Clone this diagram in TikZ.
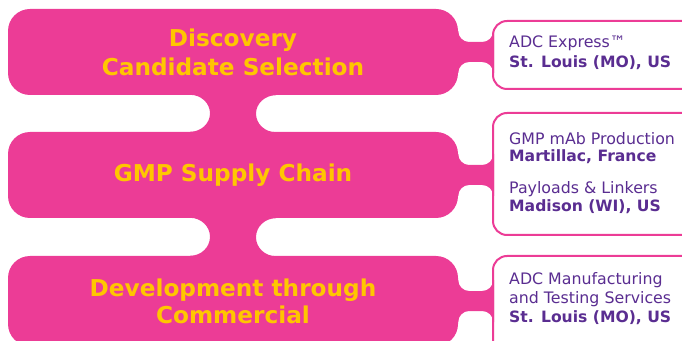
\documentclass[tikz,border=0pt]{standalone}
\usepackage{fontspec}
\setmainfont{DejaVu Sans}
\definecolor{pinkc}{HTML}{EC3C96}
\definecolor{goldc}{HTML}{FFC600}
\definecolor{purplec}{HTML}{5A2D91}
\tikzset{
 mainbox/.style={fill=pinkc, rounded corners=22pt, minimum width=450pt, minimum height=86pt, text=goldc, font=\fontsize{23.2}{29}\selectfont\bfseries, align=center, inner sep=0pt},
 sidebox/.style={draw=pinkc, line width=2pt, fill=white, rounded corners=14pt, minimum width=207pt, inner sep=0pt},
 sidetext/.style={anchor=base west, text=purplec, font=\fontsize{15.8}{18}\selectfont, inner sep=0pt},
 sidebold/.style={anchor=base west, text=purplec, font=\fontsize{15.6}{18}\selectfont\bfseries, inner sep=0pt},
 neck/.style={fill=pinkc}
}
\begin{document}
\begin{tikzpicture}[x=1pt,y=1pt]
\useasboundingbox (0,0) rectangle (682,340);
\clip (0,0) rectangle (682,340);
% main boxes
\node[mainbox] (b1) at (233,288) {Discovery\\Candidate Selection};
\node[mainbox] (b2) at (233,165) {\raisebox{-2pt}{GMP Supply Chain}};
\node[mainbox, minimum height=90pt] (b3) at (233,39) {Development through\\[-2pt]Commercial};
% side boxes
\node[sidebox, minimum height=68pt] (ra) at (596.5,285) {};
\node[sidebox, minimum height=122pt] (rb) at (596.5,166) {};
\node[sidebox, minimum height=104pt] (rc) at (596.5,32) {};
% vertical necks
\fill[neck] ([xshift=-43pt,yshift=1pt]b1.south) -- ([xshift=43pt,yshift=1pt]b1.south) -- ([xshift=43pt]b1.south)
  arc[start angle=90,end angle=270,x radius=20pt,y radius=18.5pt]
  -- ([xshift=43pt,yshift=-1pt]b2.north) -- ([xshift=-43pt,yshift=-1pt]b2.north) -- ([xshift=-43pt]b2.north)
  arc[start angle=-90,end angle=90,x radius=20pt,y radius=18.5pt] -- cycle;
\fill[neck] ([xshift=-43pt,yshift=1pt]b2.south) -- ([xshift=43pt,yshift=1pt]b2.south) -- ([xshift=43pt]b2.south)
  arc[start angle=90,end angle=270,x radius=20pt,y radius=19pt]
  -- ([xshift=43pt,yshift=-1pt]b3.north) -- ([xshift=-43pt,yshift=-1pt]b3.north) -- ([xshift=-43pt]b3.north)
  arc[start angle=-90,end angle=90,x radius=20pt,y radius=19pt] -- cycle;
% horizontal necks
\foreach \b in {b1,b2,b3}{
\fill[neck, shift={(\b.east)}] (-2,21) -- (0,21) arc[start angle=180,end angle=270,radius=11pt] -- (24,10)
  arc[start angle=270,end angle=360,radius=11pt] -- (36,21) -- (36,-21) -- (35,-21)
  arc[start angle=0,end angle=90,radius=11pt] -- (11,-10)
  arc[start angle=90,end angle=180,radius=11pt] -- (-2,-21) -- cycle;
}
% side texts
\node[sidetext] (ta1) at (509,292) {ADC Express™};
\node[sidebold] (ta2) at (509,272) {St. Louis (MO), US};
\node[sidetext] (tb1) at (509,195) {GMP mAb Production};
\node[sidebold] (tb2) at (509,178) {Martillac, France};
\node[sidetext] (tb3) at (509,146) {Payloads \& Linkers};
\node[sidebold] (tb4) at (509,128) {Madison (WI), US};
\node[sidetext] (tc1) at (509,56) {ADC Manufacturing};
\node[sidetext] (tc2) at (509,37) {and Testing Services};
\node[sidebold] (tc3) at (509,18) {St. Louis (MO), US};
\end{tikzpicture}
\end{document}
